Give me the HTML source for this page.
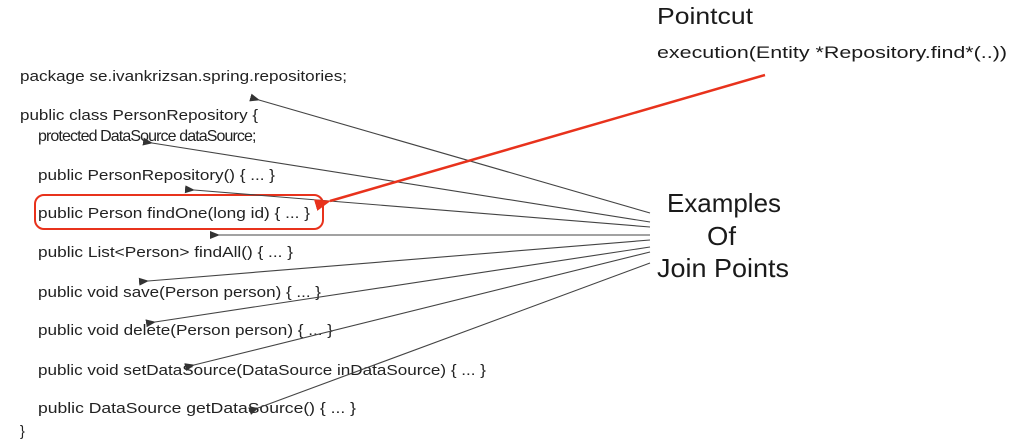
<!DOCTYPE html>
<html><head><meta charset="utf-8"><style>
html,body{margin:0;padding:0;background:#fff;}
svg{display:block;}
.c{font-family:"Liberation Sans",sans-serif;font-size:14.5px;fill:#222;}
.b{font-family:"Liberation Sans",sans-serif;fill:#1a1a1a;}
</style></head><body>
<svg width="1012" height="445" viewBox="0 0 1012 445" xmlns="http://www.w3.org/2000/svg">
<defs>
<marker id="ak" markerWidth="10" markerHeight="8" refX="1" refY="4" orient="auto-start-reverse" markerUnits="userSpaceOnUse">
<path d="M0,4 L10,0 L10,8 Z" fill="#333"/></marker>
<marker id="ar" markerWidth="16" markerHeight="12" refX="1" refY="6" orient="auto-start-reverse" markerUnits="userSpaceOnUse">
<path d="M0,6 L16,0 L16,12 Z" fill="#e8321c"/></marker>
</defs>
<text class="c" x="20" y="81" textLength="327" lengthAdjust="spacingAndGlyphs">package se.ivankrizsan.spring.repositories;</text>
<text class="c" x="20" y="120" textLength="238" lengthAdjust="spacingAndGlyphs">public class PersonRepository {</text>
<text class="c" x="38" y="141" style="font-size:16px;letter-spacing:-0.9px">protected DataSource dataSource;</text>
<text class="c" x="38" y="180" textLength="237" lengthAdjust="spacingAndGlyphs">public PersonRepository() { ... }</text>
<text class="c" x="38" y="218" textLength="272" lengthAdjust="spacingAndGlyphs">public Person findOne(long id) { ... }</text>
<text class="c" x="38" y="257" textLength="255" lengthAdjust="spacingAndGlyphs">public List&lt;Person&gt; findAll() { ... }</text>
<text class="c" x="38" y="297" textLength="283" lengthAdjust="spacingAndGlyphs">public void save(Person person) { ... }</text>
<text class="c" x="38" y="335" textLength="295" lengthAdjust="spacingAndGlyphs">public void delete(Person person) { ... }</text>
<text class="c" x="38" y="375" textLength="448" lengthAdjust="spacingAndGlyphs">public void setDataSource(DataSource inDataSource) { ... }</text>
<text class="c" x="38" y="413" textLength="318" lengthAdjust="spacingAndGlyphs">public DataSource getDataSource() { ... }</text>
<text class="c" x="20" y="436">}</text>
<rect x="35" y="195" width="288" height="34" rx="9" fill="none" stroke="#e8321c" stroke-width="2"/>
<g stroke="#444" stroke-width="1.1" fill="none">
<line x1="650" y1="213" x2="259" y2="100" marker-end="url(#ak)"/>
<line x1="650" y1="222" x2="152" y2="143" marker-end="url(#ak)"/>
<line x1="650" y1="227" x2="194" y2="190" marker-end="url(#ak)"/>
<line x1="650" y1="235" x2="219" y2="235" marker-end="url(#ak)"/>
<line x1="650" y1="240" x2="148" y2="281" marker-end="url(#ak)"/>
<line x1="650" y1="247" x2="155" y2="322" marker-end="url(#ak)"/>
<line x1="650" y1="252" x2="194" y2="365" marker-end="url(#ak)"/>
<line x1="650" y1="263" x2="258" y2="408" marker-end="url(#ak)"/>
</g>
<line x1="765" y1="75" x2="330" y2="201" stroke="#e8321c" stroke-width="2.5" marker-end="url(#ar)"/>
<text class="b" x="657" y="24" font-size="23" textLength="96" lengthAdjust="spacingAndGlyphs">Pointcut</text>
<text class="b" x="657" y="58" font-size="17" textLength="350" lengthAdjust="spacingAndGlyphs">execution(Entity *Repository.find*(..))</text>
<text class="b" x="667" y="212" font-size="26" textLength="114" lengthAdjust="spacingAndGlyphs">Examples</text>
<text class="b" x="707" y="245" font-size="26" textLength="29" lengthAdjust="spacingAndGlyphs">Of</text>
<text class="b" x="657" y="277" font-size="26" textLength="132" lengthAdjust="spacingAndGlyphs">Join Points</text>
</svg>
</body></html>
